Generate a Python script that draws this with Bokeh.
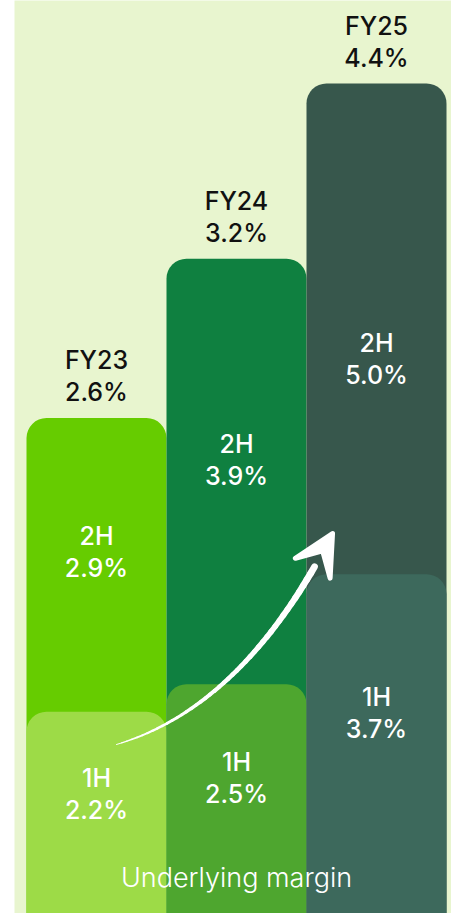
import numpy as np
from bokeh.plotting import figure
from bokeh.models import Range1d, Arrow, VeeHead, ColumnDataSource
from bokeh.core.properties import value
from bokeh.embed import file_html
from bokeh.resources import INLINE

# ---- data ----
years = ["FY23", "FY24", "FY25"]
fy_margin = [2.6, 3.2, 4.4]
h1_margin = [2.2, 2.5, 3.7]
h2_margin = [2.9, 3.9, 5.0]
title_text = "Underlying margin"

# ---- styles ----
bg = "#e8f5cf"
h2_colors = ["#66cc00", "#0f8040", "#37574c"]
h1_colors = ["#9ddb47", "#4ea62f", "#3d695c"]
FONT = "Inter Medium, Inter"
LIGHT_FONT = "Inter Light, Lato Light, Inter"

idx = list(range(len(years)))
y_floor = -0.21  # plot floor of the main scale (bars run to the bottom edge)

p = figure(width=451, height=913,
           x_range=Range1d(-0.5857, 2.5357), y_range=Range1d(y_floor, 5.521),
           x_axis_type=None, y_axis_type=None,
           toolbar_location=None, output_backend="svg",
           min_border_left=14, min_border_right=0, min_border_top=0, min_border_bottom=0,
           background_fill_color=bg, border_fill_color="white",
           outline_line_color=None)
p.xgrid.visible = False
p.ygrid.visible = False
p.extra_y_ranges = {"h1": Range1d(0, 9.956)}

src = ColumnDataSource(dict(
    x=idx, year=years, fy=fy_margin, h1=h1_margin, h2=h2_margin,
    h2c=h2_colors, h1c=h1_colors,
    fy_txt=[f"{v:.1f}%" for v in fy_margin],
    h1_txt=[f"{v:.1f}%" for v in h1_margin],
    h2_txt=[f"{v:.1f}%" for v in h2_margin],
    h1_lbl=["1H"] * 3, h2_lbl=["2H"] * 3,
    h1_pos=[v * 0.59 for v in h1_margin],
))

# 2H (full height) bars
p.vbar(x="x", top="h2", bottom=y_floor, width=1.0, source=src,
       fill_color="h2c", line_color=None, border_radius=(20, 20, 0, 0))
# 1H bars on their own scale
p.vbar(x="x", top="h1", bottom=0, width=1.0, source=src, y_range_name="h1",
       fill_color="h1c", line_color=None, border_radius=(20, 20, 0, 0))

# curved tapered arrow (quadratic bezier, anchored to the 1H values)
P0 = np.array([idx[0] + 0.143, h1_margin[0] - 0.357])
P1 = np.array([idx[1] + 0.057, 2.257])
P2 = np.array([idx[2] - 0.314, h1_margin[2] + 0.444])
t_end = 0.9
ts = np.linspace(0, t_end, 45)
pts = np.array([(1 - t) ** 2 * P0 + 2 * (1 - t) * t * P1 + t ** 2 * P2 for t in ts])
widths = 1.0 + 5.8 * (ts[:-1] / t_end) ** 0.8
p.segment(x0=pts[:-1, 0], y0=pts[:-1, 1], x1=pts[1:, 0], y1=pts[1:, 1],
          line_color="white", line_width=widths, line_cap="round", y_range_name="h1")
tb = 0.82
B = (1 - tb) ** 2 * P0 + 2 * (1 - tb) * tb * P1 + tb ** 2 * P2
p.add_layout(Arrow(end=VeeHead(size=40, fill_color="white", line_color="white", line_width=5,
                               line_join="round"),
                   x_start=B[0], y_start=B[1], x_end=P2[0], y_end=P2[1],
                   line_alpha=0, y_range_name="h1"))

txt = dict(text_font=value(FONT), text_font_size="25px", text_align="center",
           text_baseline="middle")
# FY labels above bars
p.text(x="x", y="h2", text="year", source=src, y_offset=-58, text_color="#111111", **txt)
p.text(x="x", y="h2", text="fy_txt", source=src, y_offset=-26, text_color="#111111", **txt)
# 2H labels
p.text(x="x", y="h2", text="h2_lbl", source=src, y_range_name="h1", y_offset=-112,
       text_color="white", **txt)
p.text(x="x", y="h2", text="h2_txt", source=src, y_range_name="h1", y_offset=-80,
       text_color="white", **txt)
# 1H labels
p.text(x="x", y="h1_pos", text="h1_lbl", source=src, y_range_name="h1", y_offset=-16,
       text_color="white", **txt)
p.text(x="x", y="h1_pos", text="h1_txt", source=src, y_range_name="h1", y_offset=16,
       text_color="white", **txt)

# bottom caption
p.text(x=[idx[1]], y=[0], text=[title_text], y_offset=-36, text_color="white",
       text_font=value(LIGHT_FONT), text_font_size="27px", text_align="center",
       text_baseline="middle", y_range_name="h1")

open("out.html", "w").write(file_html(p, INLINE))
